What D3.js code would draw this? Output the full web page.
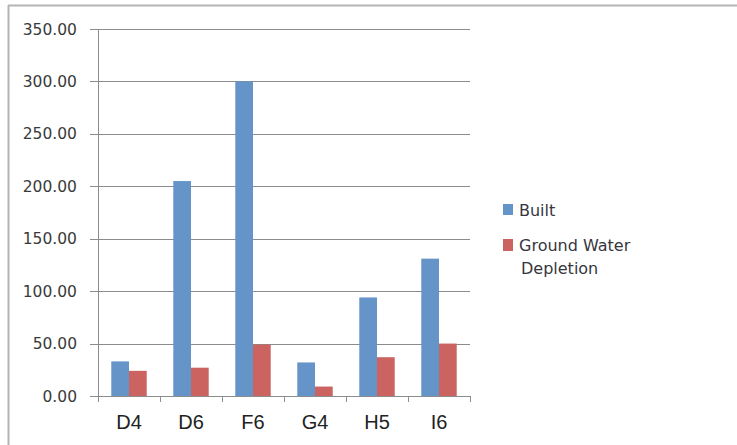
<!DOCTYPE html>
<html>
<head>
<meta charset="utf-8">
<script src="https://cdn.jsdelivr.net/npm/d3@7"></script>
<style>
  html, body { margin: 0; padding: 0; background: #fff; }
  svg { display: block; }
</style>
</head>
<body>
<svg id="chart" width="737" height="445"></svg>
<script>
// Sites and the two measured series
const categories = ["D4", "D6", "F6", "G4", "H5", "I6"];
const builtValues = [33, 205, 300, 32, 94, 131];
const depletionValues = [24, 27, 49, 9, 37, 50];
const seriesNames = ["Built", "Ground Water Depletion"];
const yTicks = [0, 50, 100, 150, 200, 250, 300, 350];

const colors = { "Built": "#6594C9", "Ground Water Depletion": "#CB6361" };

const svg = d3.select("#chart");
const W = 737, H = 445;

// outer frame (top and left edges visible)
svg.append("line").attr("x1", 8).attr("x2", W).attr("y1", 5.5).attr("y2", 5.5)
  .attr("stroke", "#b4b4b4").attr("stroke-width", 2);
svg.append("line").attr("x1", 8.5).attr("x2", 8.5).attr("y1", 5).attr("y2", H)
  .attr("stroke", "#b4b4b4").attr("stroke-width", 2);

const plot = { left: 98, right: 470, top: 29, bottom: 396 };

const x = d3.scaleBand().domain(categories).range([plot.left, plot.right]).paddingInner(0).paddingOuter(0);
const y = d3.scaleLinear().domain([0, 350]).range([plot.bottom, plot.top]);

// gridlines with short left tick extensions
svg.append("g").selectAll("line").data(yTicks.filter(d => d > 0)).join("line")
  .attr("x1", plot.left - 8).attr("x2", plot.right)
  .attr("y1", d => Math.round(y(d)) + 0.5).attr("y2", d => Math.round(y(d)) + 0.5)
  .attr("stroke", "#8c8c8c").attr("stroke-width", 1);

// y tick labels
svg.append("g").selectAll("text").data(yTicks).join("text")
  .attr("x", 77).attr("y", d => y(d) + 5.5)
  .attr("text-anchor", "end")
  .attr("font-family", "DejaVu Sans, sans-serif")
  .attr("font-size", 15.5)
  .attr("fill", "#3a3a3a")
  .text(d => d.toFixed(2));

// bars
const inner = d3.scaleBand().domain(seriesNames).range([0, x.bandwidth()]).paddingOuter(0.75).paddingInner(0);
const rows = categories.map((c, i) => ({ cat: c, vals: [builtValues[i], depletionValues[i]] }));
const groups = svg.append("g").selectAll("g").data(rows).join("g")
  .attr("transform", d => `translate(${x(d.cat)},0)`);
groups.selectAll("rect").data(d => d.vals.map((v, j) => ({ name: seriesNames[j], v })))
  .join("rect")
  .attr("x", d => inner(d.name))
  .attr("width", inner.bandwidth())
  .attr("y", d => y(d.v))
  .attr("height", d => y(0) - y(d.v))
  .attr("fill", d => colors[d.name]);

// y axis line
svg.append("line").attr("x1", plot.left + 0.5).attr("x2", plot.left + 0.5)
  .attr("y1", plot.top).attr("y2", plot.bottom + 5)
  .attr("stroke", "#8c8c8c");

// x axis with category ticks
const xAxisG = svg.append("g");
xAxisG.append("line").attr("x1", plot.left - 8).attr("x2", plot.right)
  .attr("y1", plot.bottom + 0.5).attr("y2", plot.bottom + 0.5).attr("stroke", "#8c8c8c");
const boundaries = categories.map(c => x(c)).concat([plot.right]);
xAxisG.selectAll("line.tick").data(boundaries).join("line").attr("class", "tick")
  .attr("x1", d => Math.round(d) + 0.5).attr("x2", d => Math.round(d) + 0.5)
  .attr("y1", plot.bottom).attr("y2", plot.bottom + 6)
  .attr("stroke", "#8c8c8c");
xAxisG.selectAll("text").data(categories).join("text")
  .attr("x", d => x(d) + x.bandwidth() / 2)
  .attr("y", 429)
  .attr("text-anchor", "middle")
  .attr("font-family", "Liberation Sans, Arial, sans-serif")
  .attr("font-size", 20)
  .attr("fill", "#222")
  .text(d => d);

// legend
const legend = svg.append("g").attr("font-family", "DejaVu Sans, sans-serif").attr("font-size", 16).attr("fill", "#363640");
legend.append("rect").attr("x", 503).attr("y", 204).attr("width", 10).attr("height", 11).attr("fill", colors["Built"]);
legend.append("text").attr("x", 519).attr("y", 215.5).text("Built");
legend.append("rect").attr("x", 503).attr("y", 239).attr("width", 10).attr("height", 12).attr("fill", colors["Ground Water Depletion"]);
legend.append("text").attr("x", 519).attr("y", 250.5).text("Ground Water");
legend.append("text").attr("x", 521).attr("y", 274).text("Depletion");
</script>
</body>
</html>
